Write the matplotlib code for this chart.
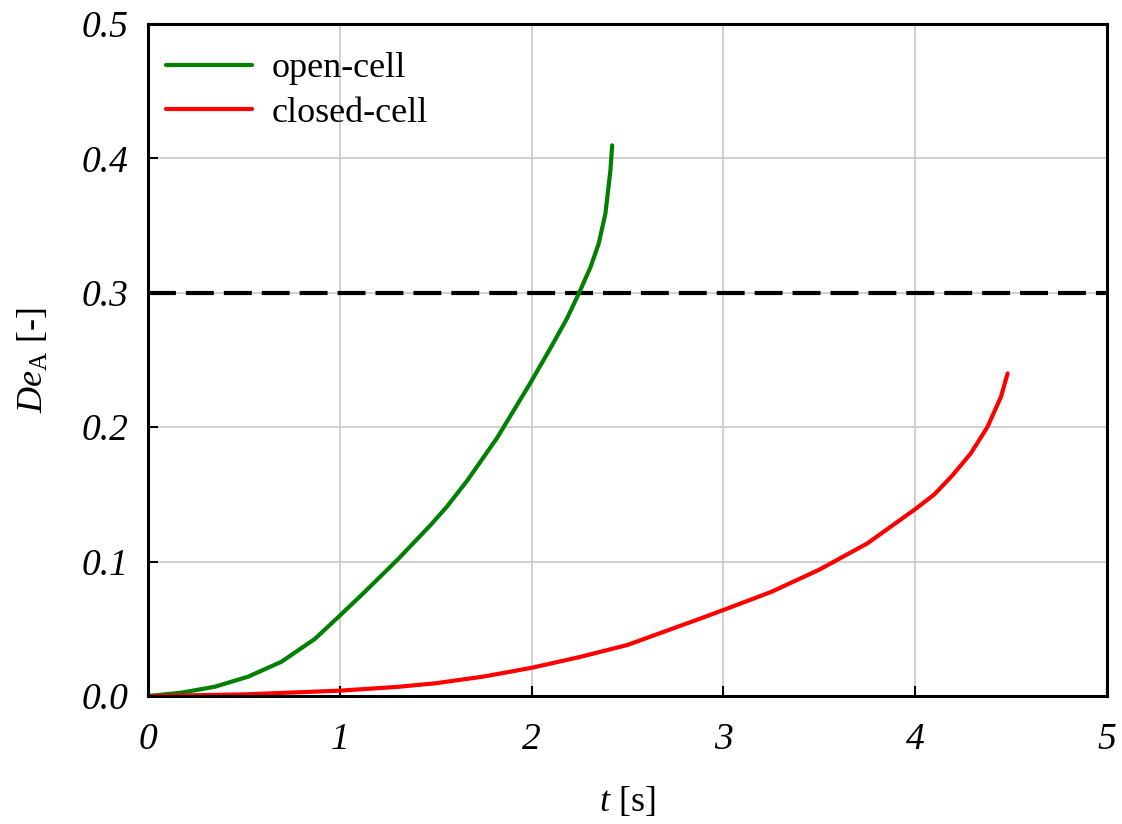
import matplotlib
matplotlib.use("Agg")
import matplotlib.pyplot as plt

# Data
t_open = [0, 0.174, 0.348, 0.522, 0.696, 0.870, 1.0, 1.131, 1.298, 1.472, 1.559, 1.663,
          1.820, 1.994, 2.107, 2.185, 2.246, 2.307, 2.350, 2.385, 2.411, 2.420]
de_open = [0, 0.0025, 0.0069, 0.0144, 0.0255, 0.0425, 0.0598, 0.0776, 0.101, 0.127, 0.141, 0.160,
           0.192, 0.233, 0.261, 0.281, 0.2994, 0.319, 0.3366, 0.359, 0.391, 0.4097]

t_closed = [0, 0.5, 1.0, 1.3, 1.5, 1.75, 2.0, 2.25, 2.5, 2.881, 3.0, 3.25, 3.5, 3.75,
            4.0, 4.1, 4.19, 4.29, 4.377, 4.447, 4.482]
de_closed = [0, 0.0012, 0.004, 0.0068, 0.0095, 0.0145, 0.021, 0.029, 0.038, 0.0577, 0.064, 0.0775,
             0.094, 0.1135, 0.139, 0.150, 0.1635, 0.1805, 0.2002, 0.2225, 0.240]

threshold = 0.3
labels = ["open-cell", "closed-cell"]
x_ticks = [0, 1, 2, 3, 4, 5]
y_ticks = [0.0, 0.1, 0.2, 0.3, 0.4, 0.5]

plt.rcParams['font.family'] = ['Liberation Serif', 'DejaVu Serif']
plt.rcParams['mathtext.fontset'] = 'custom'
plt.rcParams['mathtext.rm'] = 'Liberation Serif'
plt.rcParams['mathtext.it'] = 'Liberation Serif:italic'

fig = plt.figure(figsize=(11.22, 8.24), dpi=100)
ax = fig.add_axes([0.1319, 0.1553, 0.8547, 0.8156])

ax.plot(t_open, de_open, color='#008000', lw=3, label=labels[0], solid_capstyle='round',
        solid_joinstyle='round', zorder=3)
ax.plot(t_closed, de_closed, color='#ff0000', lw=3, label=labels[1], solid_capstyle='round',
        solid_joinstyle='round', zorder=3)
ax.axhline(threshold, color='black', lw=3, dashes=[6.7, 2.4], zorder=2)

ax.set_xlim(0, 5)
ax.set_ylim(0, 0.5)
ax.set_xticks(x_ticks)
ax.set_yticks(y_ticks)
ax.set_xticklabels([str(v) for v in x_ticks], fontstyle='italic', fontsize=27)
ax.set_yticklabels([f"{v:.1f}" for v in y_ticks], fontstyle='italic', fontsize=27)
ax.tick_params(direction='in', length=7, width=1.5, color='black')
ax.tick_params(axis='x', pad=19)
ax.tick_params(axis='y', pad=14)

ax.grid(True, color='#c8c8c8', lw=1.2, zorder=0)
for s in ax.spines.values():
    s.set_linewidth(2.2)
    s.set_zorder(4)

ax.set_xlabel(r'$t$ [s]', fontsize=26, labelpad=20)
ax.set_ylabel(r'$De_{\mathrm{A}}$ [-]', fontsize=26, labelpad=22)

leg = ax.legend(loc='upper left', bbox_to_anchor=(0.0, 0.985), frameon=False, fontsize=26,
                handlelength=2.38, handletextpad=0.55, labelspacing=0.3, borderaxespad=0.1)

fig.savefig('out.png', dpi=100)
